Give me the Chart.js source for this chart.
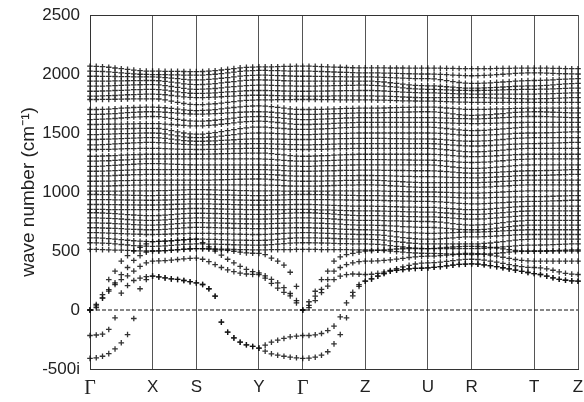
<!DOCTYPE html>
<html><head><meta charset="utf-8">
<script src="https://cdn.jsdelivr.net/npm/chart.js@4.4.1/dist/chart.umd.min.js"></script>
<style>html,body{margin:0;padding:0;background:#fff}#wrap{width:584px;height:402px}</style>
</head><body><div id="wrap"><canvas id="c" width="584" height="402"></canvas></div>
<script>
// k-path labels and node positions (k-point index along the path)
const kLabels = ['Γ','X','S','Y','Γ','Z','U','R','T','Z'];
const kNodes = [0,10,17,27,34,44,54,61,71,78];
const yTicks = [-500,0,500,1000,1500,2000,2500];

// low-frequency branches (imaginary modes plotted as negative), segments Γ-X, X-S, S-Y, Y-Γ, Γ-Z, Z-U, U-R, R-T, T-Z
const lowA = [[-410,-405,-392,-370,-330,-278,-208,-72,180,258,287],[281,272,264,259,250,240,230],[216,180,117,-103,-188,-236,-273,-295,-309,-323],[-349,-371,-383,-392,-400,-405,-410],[-408,-400,-383,-354,-287,-208,-66,120,200,244],[264,287,309,329,337,343,349,352,354,357],[362,368,374,380,386,389,391],[388,383,376,368,358,348,338,328,318,309],[301,287,273,260,252,247,244]];
const lowB = [[-216,-212,-205,-165,-66,143,207,250,270,282,287],[281,272,264,259,250,240,230],[216,180,117,-103,-188,-236,-273,-295,-309,-323],[-298,-273,-256,-241,-227,-222,-216],[-216,-210,-199,-174,-137,-58,60,150,215,244],[264,287,309,329,337,343,349,352,354,357],[362,368,374,380,386,389,391],[388,383,376,368,358,348,338,328,318,309],[301,287,273,260,252,247,244]];
const acoustic1 = [[0,47,131,258,329,414,460,500,530,560,580],[581,583,586,590,594,598,600],[570,535,500,465,430,400,370,345,325,315],[290,260,230,190,140,80,0],[70,159,258,329,414,450,470,480,490,500],[502,506,510,514,517,519,520,520,520,520],[522,526,530,534,537,539,540],[539,536,531,525,518,511,505,501,499,498],[498,498,499,499,500,500,500]];
const acoustic2 = [[0,20,103,173,216,258,290,330,370,400,414],[416,419,423,428,434,438,440],[430,410,385,360,340,325,312,305,302,301],[270,225,185,150,120,60,0],[20,80,148,202,258,287,300,305,303,301],[303,310,321,335,350,365,379,390,398,400],[402,406,412,418,424,429,430],[428,423,415,405,395,385,375,368,362,360],[357,349,337,323,311,304,301]];
const acoustic3 = [[0,35,100,160,230,300,360,420,460,490,500],[501,503,506,510,514,517,520],[519,517,514,510,505,498,490,484,481,480],[470,440,414,380,320,200,0],[40,117,174,258,329,360,385,400,410,414],[415,417,420,425,431,438,445,450,454,456],[457,461,465,470,475,479,480],[478,473,466,457,447,437,428,421,416,414],[414,414,414,414,414,414,414]];

// optical bands (dense region)
const highBands = [
[[2066,2065,2062,2057,2051,2045,2039,2033,2028,2025,2024],[2024,2023,2022,2022,2021,2020,2020],[2021,2024,2028,2034,2040,2046,2052,2056,2059,2060],[2060,2061,2062,2064,2065,2066,2066],[2066,2065,2063,2061,2059,2057,2055,2053,2052,2052],[2052,2052,2052,2051,2051,2051,2050,2050,2050,2050],[2050,2049,2048,2047,2046,2045,2045],[2045,2046,2046,2047,2048,2048,2049,2050,2050,2050],[2050,2049,2048,2047,2046,2045,2045]],
[[2024,2023,2021,2018,2014,2010,2005,2001,1998,1996,1995],[1995,1994,1993,1992,1991,1990,1990],[1991,1994,1998,2004,2010,2016,2022,2026,2029,2030],[2030,2029,2028,2026,2025,2024,2024],[2024,2023,2021,2019,2017,2015,2013,2011,2010,2010],[2010,2009,2008,2007,2005,2004,2002,2001,2000,2000],[1999,1997,1994,1991,1988,1986,1985],[1986,1988,1990,1994,1998,2001,2005,2008,2010,2010],[2010,2008,2006,2004,2002,2001,2000]],
[[1981,1981,1980,1980,1979,1978,1977,1976,1976,1975,1975],[1974,1970,1965,1960,1955,1951,1950],[1951,1954,1958,1964,1970,1976,1982,1986,1989,1990],[1990,1988,1986,1985,1983,1981,1981],[1981,1980,1980,1979,1978,1977,1976,1976,1975,1975],[1975,1973,1972,1970,1968,1965,1963,1961,1960,1960],[1958,1952,1944,1936,1928,1922,1920],[1921,1922,1925,1929,1932,1936,1940,1942,1944,1945],[1946,1948,1951,1954,1957,1959,1960]],
[[1939,1939,1940,1940,1941,1942,1943,1944,1944,1945,1945],[1943,1938,1931,1924,1917,1912,1910],[1911,1914,1918,1924,1930,1936,1942,1946,1949,1950],[1949,1948,1946,1943,1941,1940,1939],[1939,1939,1939,1939,1940,1940,1940,1940,1940,1940],[1939,1936,1932,1926,1920,1914,1908,1904,1901,1900],[1899,1896,1892,1888,1884,1881,1880],[1880,1882,1884,1887,1890,1893,1896,1898,1900,1900],[1901,1904,1908,1912,1916,1919,1920]],
[[1897,1897,1898,1900,1902,1904,1905,1907,1909,1910,1910],[1908,1902,1894,1886,1878,1872,1870],[1871,1874,1877,1882,1888,1893,1898,1902,1904,1905],[1905,1903,1902,1900,1899,1897,1897],[1897,1898,1899,1900,1901,1902,1903,1904,1905,1905],[1904,1902,1898,1893,1888,1882,1877,1874,1871,1870],[1870,1868,1866,1864,1862,1861,1860],[1860,1861,1862,1864,1865,1867,1868,1869,1870,1870],[1871,1872,1874,1876,1878,1880,1880]],
[[1854,1854,1856,1857,1860,1862,1864,1867,1868,1870,1870],[1868,1863,1856,1849,1842,1837,1835],[1836,1838,1840,1844,1848,1851,1855,1858,1860,1860],[1860,1859,1858,1856,1855,1854,1854],[1854,1855,1855,1856,1857,1858,1859,1859,1860,1860],[1860,1858,1856,1853,1850,1847,1844,1842,1840,1840],[1840,1838,1836,1834,1832,1831,1830],[1830,1830,1830,1830,1830,1830,1830,1830,1830,1830],[1831,1832,1834,1836,1838,1840,1840]],
[[1812,1812,1814,1816,1818,1821,1824,1826,1828,1830,1830],[1828,1824,1818,1812,1806,1802,1800],[1800,1802,1804,1807,1810,1813,1816,1818,1820,1820],[1820,1818,1817,1815,1814,1812,1812],[1812,1812,1813,1813,1814,1814,1814,1815,1815,1815],[1815,1813,1812,1810,1808,1805,1803,1801,1800,1800],[1800,1800,1800,1800,1800,1800,1800],[1800,1799,1798,1796,1795,1793,1792,1791,1790,1790],[1791,1792,1794,1796,1798,1800,1800]],
[[1784,1784,1785,1785,1786,1787,1788,1789,1790,1790,1790],[1788,1780,1770,1760,1750,1742,1740],[1741,1744,1748,1754,1760,1766,1772,1776,1779,1780],[1780,1781,1782,1782,1783,1784,1784],[1784,1784,1783,1783,1782,1781,1781,1780,1780,1780],[1780,1779,1778,1776,1775,1773,1772,1771,1770,1770],[1770,1768,1766,1764,1762,1761,1760],[1760,1760,1760,1760,1760,1760,1760,1760,1760,1760],[1760,1760,1760,1760,1760,1760,1760]],
[[1699,1699,1701,1703,1706,1710,1713,1716,1718,1720,1720],[1718,1714,1708,1702,1696,1692,1690],[1691,1694,1698,1704,1710,1716,1722,1726,1729,1730],[1728,1724,1718,1711,1705,1700,1699],[1699,1700,1701,1703,1704,1706,1708,1709,1710,1710],[1710,1711,1712,1714,1715,1717,1718,1719,1720,1720],[1719,1716,1712,1708,1704,1701,1700],[1700,1701,1702,1704,1705,1707,1708,1709,1710,1710],[1710,1710,1710,1710,1710,1710,1710]],
[[1657,1657,1659,1662,1665,1669,1672,1675,1678,1680,1680],[1679,1676,1672,1668,1664,1661,1660],[1660,1662,1664,1667,1670,1673,1676,1678,1680,1680],[1679,1676,1671,1666,1661,1658,1657],[1657,1658,1660,1662,1664,1665,1667,1669,1670,1670],[1670,1671,1672,1674,1675,1677,1678,1679,1680,1680],[1679,1674,1668,1662,1656,1652,1650],[1651,1653,1656,1661,1665,1670,1674,1677,1679,1680],[1680,1678,1676,1674,1672,1671,1670]],
[[1614,1615,1617,1619,1623,1627,1631,1635,1637,1639,1640],[1638,1632,1624,1616,1608,1602,1600],[1601,1604,1608,1614,1620,1626,1632,1636,1639,1640],[1639,1635,1630,1624,1619,1615,1614],[1614,1616,1617,1620,1622,1624,1627,1628,1630,1630],[1630,1630,1630,1630,1630,1630,1630,1630,1630,1630],[1630,1628,1626,1624,1622,1621,1620],[1620,1622,1624,1627,1630,1633,1636,1638,1640,1640],[1640,1638,1636,1634,1632,1631,1630]],
[[1572,1572,1573,1574,1575,1576,1577,1578,1579,1580,1580],[1579,1576,1572,1568,1564,1561,1560],[1561,1564,1568,1574,1580,1586,1592,1596,1599,1600],[1599,1595,1589,1583,1577,1573,1572],[1572,1574,1576,1578,1581,1584,1586,1588,1590,1590],[1590,1590,1590,1590,1590,1590,1590,1590,1590,1590],[1590,1588,1586,1584,1582,1581,1580],[1580,1581,1582,1584,1585,1587,1588,1589,1590,1590],[1590,1590,1590,1590,1590,1590,1590]],
[[1530,1530,1531,1532,1534,1535,1537,1538,1539,1540,1540],[1538,1530,1520,1510,1500,1492,1490],[1491,1496,1503,1511,1520,1529,1537,1544,1549,1550],[1549,1546,1542,1538,1534,1531,1530],[1530,1532,1534,1537,1540,1543,1546,1548,1550,1550],[1550,1550,1550,1550,1550,1550,1550,1550,1550,1550],[1548,1544,1538,1532,1526,1522,1520],[1521,1523,1526,1531,1535,1540,1544,1547,1549,1550],[1550,1550,1550,1550,1550,1550,1550]],
[[1487,1487,1488,1490,1492,1494,1495,1497,1499,1500,1500],[1498,1492,1484,1476,1468,1462,1460],[1461,1464,1468,1474,1480,1486,1492,1496,1499,1500],[1499,1498,1495,1492,1489,1488,1487],[1487,1488,1490,1492,1494,1495,1497,1499,1500,1500],[1500,1500,1500,1500,1500,1500,1500,1500,1500,1500],[1499,1496,1492,1488,1484,1481,1480],[1480,1482,1484,1487,1490,1493,1496,1498,1500,1500],[1501,1502,1504,1506,1508,1510,1510]],
[[1445,1445,1447,1448,1450,1453,1455,1457,1459,1460,1460],[1458,1454,1448,1442,1436,1432,1430],[1430,1432,1434,1437,1440,1443,1446,1448,1450,1450],[1450,1449,1448,1447,1446,1445,1445],[1445,1446,1447,1449,1450,1452,1453,1454,1455,1455],[1455,1455,1454,1453,1452,1452,1451,1450,1450,1450],[1449,1446,1442,1438,1434,1431,1430],[1431,1433,1436,1441,1445,1450,1454,1457,1459,1460],[1460,1460,1460,1460,1460,1460,1460]],
[[1400,1400,1402,1404,1407,1410,1413,1416,1418,1420,1420],[1419,1416,1412,1408,1404,1401,1400],[1400,1401,1402,1404,1405,1407,1408,1409,1410,1410],[1410,1408,1406,1404,1402,1401,1400],[1400,1401,1402,1404,1405,1407,1408,1409,1410,1410],[1410,1410,1410,1410,1410,1410,1410,1410,1410,1410],[1409,1406,1402,1398,1394,1391,1390],[1390,1392,1394,1397,1400,1403,1406,1408,1410,1410],[1411,1412,1414,1416,1418,1420,1420]],
[[1360,1360,1361,1362,1364,1365,1367,1368,1369,1370,1370],[1370,1368,1366,1364,1362,1361,1360],[1360,1361,1362,1364,1365,1367,1368,1369,1370,1370],[1370,1368,1366,1364,1362,1361,1360],[1360,1361,1362,1364,1365,1367,1368,1369,1370,1370],[1370,1370,1370,1370,1370,1370,1370,1370,1370,1370],[1368,1364,1358,1352,1346,1342,1340],[1341,1343,1346,1351,1355,1360,1364,1367,1369,1370],[1370,1370,1370,1370,1370,1370,1370]],
[[1303,1303,1305,1307,1309,1312,1314,1316,1318,1320,1320],[1320,1320,1320,1320,1320,1320,1320],[1320,1321,1322,1324,1325,1327,1328,1329,1330,1330],[1329,1325,1319,1314,1308,1304,1303],[1303,1305,1307,1309,1312,1314,1316,1318,1320,1320],[1320,1320,1320,1320,1320,1320,1320,1320,1320,1320],[1319,1316,1312,1308,1304,1301,1300],[1300,1302,1304,1307,1310,1313,1316,1318,1320,1320],[1320,1320,1320,1320,1320,1320,1320]],
[[1261,1261,1263,1265,1268,1271,1273,1276,1278,1280,1280],[1280,1280,1280,1280,1280,1280,1280],[1280,1280,1280,1280,1280,1280,1280,1280,1280,1280],[1279,1276,1273,1268,1265,1262,1261],[1261,1262,1264,1266,1268,1270,1272,1274,1275,1275],[1275,1275,1274,1273,1272,1272,1271,1270,1270,1270],[1269,1266,1262,1258,1254,1251,1250],[1251,1253,1256,1261,1265,1270,1274,1277,1279,1280],[1280,1280,1280,1280,1280,1280,1280]],
[[1218,1218,1220,1223,1226,1229,1232,1235,1238,1240,1240],[1240,1238,1236,1234,1232,1231,1230],[1230,1230,1230,1230,1230,1230,1230,1230,1230,1230],[1229,1228,1225,1223,1220,1219,1218],[1218,1219,1221,1223,1224,1226,1227,1229,1230,1230],[1230,1230,1230,1230,1230,1230,1230,1230,1230,1230],[1228,1224,1218,1212,1206,1202,1200],[1201,1203,1206,1211,1215,1220,1224,1227,1229,1230],[1230,1230,1230,1230,1230,1230,1230]],
[[1176,1176,1177,1179,1181,1183,1185,1187,1189,1190,1190],[1190,1190,1190,1190,1190,1190,1190],[1190,1190,1190,1190,1190,1190,1190,1190,1190,1190],[1189,1187,1185,1181,1179,1177,1176],[1176,1177,1178,1179,1180,1182,1183,1184,1185,1185],[1185,1185,1184,1183,1182,1182,1181,1180,1180,1180],[1179,1176,1172,1168,1164,1161,1160],[1160,1162,1164,1167,1170,1173,1176,1178,1180,1180],[1181,1182,1184,1186,1188,1190,1190]],
[[1134,1134,1136,1137,1140,1142,1144,1147,1148,1150,1150],[1150,1150,1150,1150,1150,1150,1150],[1150,1150,1150,1150,1150,1150,1150,1150,1150,1150],[1149,1147,1144,1140,1137,1135,1134],[1134,1135,1135,1136,1137,1138,1139,1139,1140,1140],[1140,1139,1138,1136,1135,1133,1132,1131,1130,1130],[1130,1128,1126,1124,1122,1121,1120],[1120,1122,1124,1127,1130,1133,1136,1138,1140,1140],[1141,1142,1144,1146,1148,1150,1150]],
[[1091,1091,1092,1093,1094,1096,1097,1098,1099,1100,1100],[1100,1100,1100,1100,1100,1100,1100],[1100,1101,1102,1104,1105,1107,1108,1109,1110,1110],[1109,1106,1103,1098,1095,1092,1091],[1091,1092,1093,1094,1095,1097,1098,1099,1100,1100],[1100,1098,1096,1093,1090,1087,1084,1082,1080,1080],[1080,1080,1080,1080,1080,1080,1080],[1080,1082,1084,1087,1090,1093,1096,1098,1100,1100],[1100,1100,1100,1100,1100,1100,1100]],
[[1049,1049,1050,1051,1053,1055,1056,1058,1059,1060,1060],[1060,1060,1060,1060,1060,1060,1060],[1060,1060,1060,1060,1060,1060,1060,1060,1060,1060],[1059,1058,1056,1053,1051,1050,1049],[1049,1050,1051,1053,1055,1056,1058,1059,1060,1060],[1060,1058,1056,1053,1050,1047,1044,1042,1040,1040],[1040,1040,1040,1040,1040,1040,1040],[1040,1042,1044,1047,1050,1053,1056,1058,1060,1060],[1060,1060,1060,1060,1060,1060,1060]],
[[1007,1007,1007,1008,1008,1008,1009,1009,1010,1010,1010],[1011,1012,1014,1016,1018,1020,1020],[1020,1019,1018,1016,1015,1013,1012,1011,1010,1010],[1010,1009,1009,1008,1008,1007,1007],[1007,1007,1008,1008,1009,1009,1009,1010,1010,1010],[1010,1009,1008,1006,1005,1003,1002,1001,1000,1000],[1000,998,996,994,992,991,990],[990,992,994,997,1000,1003,1006,1008,1010,1010],[1010,1010,1010,1010,1010,1010,1010]],
[[979,979,978,977,976,974,973,972,971,970,970],[971,972,974,976,978,980,980],[980,979,978,976,975,973,972,971,970,970],[970,972,974,975,977,979,979],[979,978,977,976,974,973,972,971,970,970],[970,969,968,966,965,963,962,961,960,960],[960,958,956,954,952,951,950],[950,951,952,954,955,957,958,959,960,960],[961,962,964,966,968,970,970]],
[[936,936,935,935,934,933,932,931,931,930,930],[931,932,934,936,938,940,940],[940,939,938,936,935,933,932,931,930,930],[930,931,932,934,935,936,936],[936,936,935,935,934,933,932,931,930,930],[930,929,928,926,925,923,922,921,920,920],[919,916,912,908,904,901,900],[900,902,904,907,910,913,916,918,920,920],[921,922,924,926,928,930,930]],
[[894,894,894,893,893,892,891,891,890,890,890],[891,892,894,896,898,900,900],[900,899,898,896,895,893,892,891,890,890],[890,891,892,892,893,894,894],[894,893,891,889,887,885,883,881,880,880],[880,879,878,876,875,873,872,871,870,870],[869,866,862,858,854,851,850],[851,853,856,861,865,870,874,877,879,880],[880,880,880,880,880,880,880]],
[[852,852,852,851,851,851,851,850,850,850,850],[851,852,854,856,858,860,860],[860,859,858,856,855,853,852,851,850,850],[850,850,851,851,852,852,852],[852,851,849,848,846,844,843,841,840,840],[840,839,838,836,835,833,832,831,830,830],[829,826,822,818,814,811,810],[811,813,816,821,825,830,834,837,839,840],[840,840,840,840,840,840,840]],
[[824,824,822,819,816,812,808,805,802,800,800],[801,804,808,812,816,819,820],[820,819,818,816,815,813,812,811,810,810],[811,813,815,819,821,823,824],[824,822,819,816,812,808,805,802,800,800],[800,799,798,796,795,793,792,791,790,790],[789,786,782,778,774,771,770],[771,773,776,781,785,790,794,797,799,800],[800,800,800,800,800,800,800]],
[[781,781,779,777,774,771,767,764,762,760,760],[761,764,768,772,776,779,780],[780,779,778,776,775,773,772,771,770,770],[771,772,774,777,779,780,781],[781,779,777,774,771,767,764,762,760,760],[760,759,758,756,755,753,752,751,750,750],[748,744,738,732,726,722,720],[721,724,728,734,740,746,752,756,759,760],[760,760,760,760,760,760,760]],
[[739,739,737,735,732,730,727,724,722,720,720],[721,724,728,732,736,739,740],[740,739,738,736,735,733,732,731,730,730],[730,732,734,735,737,739,739],[739,737,735,732,730,727,724,722,720,720],[720,718,716,713,710,707,704,702,700,700],[699,696,692,688,684,681,680],[681,684,688,694,700,706,712,716,719,720],[720,720,720,720,720,720,720]],
[[697,697,695,693,691,689,686,684,682,680,680],[681,684,688,692,696,699,700],[700,699,698,696,695,693,692,691,690,690],[690,691,693,694,696,697,697],[697,695,693,691,689,686,684,682,680,680],[679,677,674,670,665,660,656,653,651,650],[650,652,654,656,658,660,660],[660,662,664,667,670,673,676,678,680,680],[680,680,680,680,680,680,680]],
[[655,655,654,652,650,648,645,643,642,640,640],[641,642,644,646,648,650,650],[650,649,648,646,645,643,642,641,640,640],[641,643,646,649,652,654,655],[655,654,652,650,648,645,643,642,640,640],[639,636,632,626,620,614,608,604,601,600],[601,604,608,612,616,619,620],[620,622,624,627,630,633,636,638,640,640],[640,640,640,640,640,640,640]],
[[612,611,609,605,601,596,591,587,583,581,580],[581,584,588,592,596,599,600],[600,599,598,596,595,593,592,591,590,590],[591,594,599,603,608,611,612],[612,611,609,608,606,604,603,601,600,600],[599,596,592,586,580,574,568,564,561,560],[560,560,560,560,560,560,560],[561,564,568,574,580,586,592,596,599,600],[600,600,600,600,600,600,600]],
[[570,569,567,564,560,555,551,546,543,541,540],[541,544,548,552,556,559,560],[560,559,558,556,555,553,552,551,550,550],[551,554,558,562,566,569,570],[570,569,568,566,565,563,562,561,560,560],[559,556,552,546,540,534,528,524,521,520],[520,520,520,520,520,520,520],[521,523,526,531,535,540,544,547,549,550],[551,552,554,556,558,560,560]],
[[513,513,512,510,508,507,505,503,501,500,500],[501,504,508,512,516,519,520],[520,519,518,516,515,513,512,511,510,510],[510,511,511,512,512,513,513],[513,513,512,512,512,511,511,510,510,510],[509,507,504,500,495,490,486,483,481,480],[480,478,476,474,472,471,470],[471,473,476,481,485,490,494,497,499,500],[501,502,504,506,508,510,510]]
];

const allBands = [lowA, lowB, acoustic1, acoustic2, acoustic3].concat(highBands);

const datasets = [{
  type: 'line', data: [{x: kNodes[0], y: 0}, {x: kNodes[kNodes.length - 1], y: 0}],
  borderColor: '#111', borderWidth: 1, borderDash: [4, 2], pointRadius: 0, fill: false
}];
allBands.forEach(b => {
  datasets.push({
    type: 'scatter',
    data: b.flat().map((v, i) => ({x: i, y: v})),
    pointStyle: 'cross', pointRadius: 2.8, pointBorderWidth: 1.3,
    borderColor: 'rgba(15,15,15,0.85)', backgroundColor: 'rgba(0,0,0,0)',
    pointHoverRadius: 2.8, clip: 6
  });
});

const topBorder = {
  id: 'topBorder',
  beforeDatasetsDraw(chart) {
    const {ctx, chartArea: a} = chart;
    ctx.save();
    ctx.strokeStyle = '#333'; ctx.lineWidth = 1;
    ctx.beginPath(); ctx.moveTo(a.left, a.top + 0.5); ctx.lineTo(a.right, a.top + 0.5); ctx.stroke();
    ctx.restore();
  }
};

new Chart(document.getElementById('c'), {
  data: {datasets},
  plugins: [topBorder],
  options: {
    responsive: false, animation: false, events: [],
    layout: {padding: {top: 15, right: 6, left: 0, bottom: 0}},
    plugins: {legend: {display: false}, tooltip: {enabled: false}},
    scales: {
      x: {
        type: 'linear', min: kNodes[0], max: kNodes[kNodes.length - 1],
        afterBuildTicks: s => { s.ticks = kNodes.map(v => ({value: v})); },
        afterFit: s => { s.height = 33; s.paddingLeft = 0; s.paddingRight = 0; },
        ticks: {
          autoSkip: false, maxRotation: 0, padding: 8, color: '#222',
          callback: (v, i) => kLabels[i],
          font: ctx => kLabels[ctx.index] === 'Γ'
            ? {family: '"Liberation Serif", "Times New Roman", serif', size: 20}
            : {family: '"Liberation Sans", Arial, sans-serif', size: 17}
        },
        grid: {color: '#555', lineWidth: 1, drawTicks: false},
        border: {display: true, color: '#333', width: 1}
      },
      y: {
        type: 'linear', min: yTicks[0], max: yTicks[yTicks.length - 1],
        afterBuildTicks: s => { s.ticks = yTicks.map(v => ({value: v})); },
        afterFit: s => { s.width = 90; s.paddingTop = 0; s.paddingBottom = 0; },
        ticks: {
          padding: 10, color: '#222',
          font: {family: '"Liberation Sans", Arial, sans-serif', size: 17},
          callback: v => v === -500 ? '-500i' : String(v)
        },
        grid: {display: false, drawTicks: false},
        border: {display: true, color: '#333', width: 1},
        title: {
          display: true, text: 'wave number (cm⁻¹)', color: '#222',
          font: {family: '"Liberation Sans", Arial, sans-serif', size: 19},
          padding: {top: 17, bottom: 0}
        }
      }
    }
  }
});
</script>
</body></html>
